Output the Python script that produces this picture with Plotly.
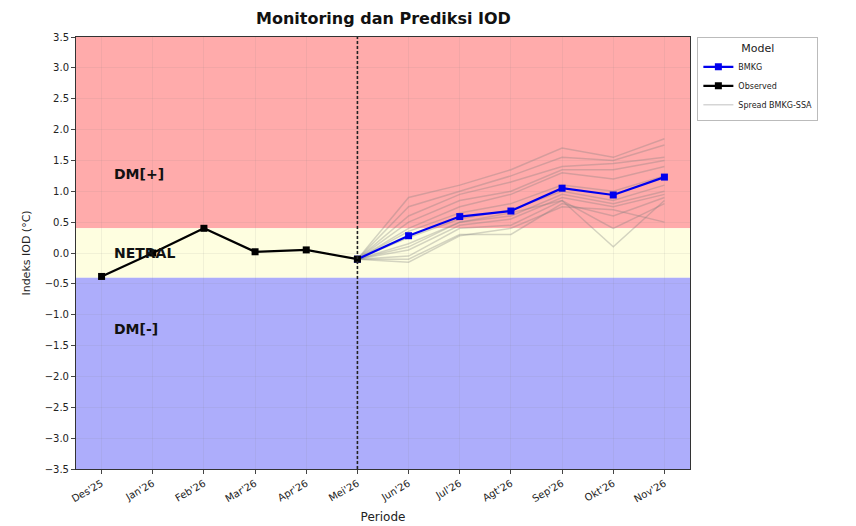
import plotly.graph_objects as go

periods = ["Des'25", "Jan'26", "Feb'26", "Mar'26", "Apr'26", "Mei'26",
           "Jun'26", "Jul'26", "Agt'26", "Sep'26", "Okt'26", "Nov'26"]
observed = [-0.38, 0.0, 0.40, 0.02, 0.05, -0.10]
bmkg = [-0.10, 0.28, 0.59, 0.68, 1.05, 0.94, 1.23]
spread_members = [
    [-0.10, 0.90, 1.10, 1.35, 1.70, 1.55, 1.85],
    [-0.10, 0.75, 1.00, 1.25, 1.55, 1.50, 1.75],
    [-0.10, 0.60, 0.95, 1.15, 1.40, 1.45, 1.55],
    [-0.10, 0.50, 0.85, 1.00, 1.35, 1.35, 1.50],
    [-0.10, 0.40, 0.75, 0.95, 1.30, 1.20, 1.40],
    [-0.10, 0.35, 0.65, 0.80, 1.10, 1.00, 1.25],
    [-0.10, 0.25, 0.55, 0.70, 1.00, 0.85, 1.10],
    [-0.10, 0.15, 0.50, 0.60, 0.95, 0.80, 1.00],
    [-0.10, 0.05, 0.45, 0.55, 0.90, 0.75, 0.95],
    [-0.10, -0.05, 0.40, 0.45, 0.85, 0.10, 0.85],
    [-0.10, -0.10, 0.30, 0.30, 0.80, 0.60, 0.90],
    [-0.10, -0.15, 0.28, 0.40, 0.75, 0.70, 0.50],
    [-0.10, 0.10, 0.50, 0.65, 0.85, 0.40, 0.80],
]
y_ticks = [-3.5, -3.0, -2.5, -2.0, -1.5, -1.0, -0.5, 0.0, 0.5, 1.0, 1.5, 2.0, 2.5, 3.0, 3.5]
threshold = 0.4
y_min, y_max = -3.5, 3.5
title_text = "Monitoring dan Prediksi IOD"

obs_x = list(range(len(observed)))
fc_x = list(range(len(observed) - 1, len(periods)))

fig = go.Figure()

for i, m in enumerate(spread_members):
    fig.add_trace(go.Scatter(
        x=fc_x, y=m, mode="lines",
        line=dict(color="rgba(128,128,128,0.33)", width=1.5),
        name="Spread BMKG-SSA", legendgroup="spread", legendrank=3,
        showlegend=(i == 0), hoverinfo="skip"))

fig.add_trace(go.Scatter(
    x=fc_x, y=bmkg, mode="lines+markers", name="BMKG", legendrank=1,
    line=dict(color="#0000ee", width=2.2),
    marker=dict(symbol="square", size=7, color="#0000ee")))

fig.add_trace(go.Scatter(
    x=obs_x, y=observed, mode="lines+markers", name="Observed", legendrank=2,
    line=dict(color="black", width=2.2),
    marker=dict(symbol="square", size=7, color="black")))

# bands
fig.add_shape(type="rect", xref="paper", yref="y", x0=0, x1=1, y0=threshold, y1=y_max,
              fillcolor="#ffabab", line_width=0, layer="below")
fig.add_shape(type="rect", xref="paper", yref="y", x0=0, x1=1, y0=-threshold, y1=threshold,
              fillcolor="#fefee0", line_width=0, layer="below")
fig.add_shape(type="rect", xref="paper", yref="y", x0=0, x1=1, y0=y_min, y1=-threshold,
              fillcolor="#adadfb", line_width=0, layer="below")
fig.add_shape(type="line", xref="x", yref="paper", x0=5, x1=5, y0=0, y1=1,
              line=dict(color="#222", width=1.6, dash="3px,2px"))

for txt, yv in [("DM[+]", 1.28), ("NETRAL", 0.0), ("DM[-]", -1.23)]:
    fig.add_annotation(x=0.2, y=yv, xref="x", yref="y", text="<b>%s</b>" % txt,
                       showarrow=False, xanchor="left", yanchor="middle",
                       font=dict(size=14, color="#111", family="DejaVu Sans"))

fig.add_annotation(x=0.5, y=1.043, xref="paper", yref="paper",
                   text="<b>%s</b>" % title_text, showarrow=False,
                   xanchor="center", yanchor="middle",
                   font=dict(size=16, color="#111", family="DejaVu Sans"))

fig.update_layout(
    width=856, height=526,
    margin=dict(l=68, r=174, t=29, b=65, autoexpand=False),
    paper_bgcolor="white", plot_bgcolor="white",
    font=dict(family="DejaVu Sans", size=10, color="#222"),
    legend=dict(x=1.012, y=1.0, xanchor="left", yanchor="top",
                bordercolor="#bbbbbb", borderwidth=1, bgcolor="white",
                title=dict(text="Model", side="top center", font=dict(size=11)),
                font=dict(size=8), itemwidth=30, tracegroupgap=0),
    showlegend=True,
)

fig.update_xaxes(
    range=[-0.5, 11.5], tickmode="array", tickvals=list(range(len(periods))),
    ticktext=periods, tickangle=-30, ticks="outside", ticklen=4,
    showline=True, linecolor="#333", linewidth=1, mirror=True, automargin=False,
    showgrid=True, gridcolor="rgba(128,128,128,0.10)", zeroline=False,
    title=dict(text="Periode", font=dict(size=12), standoff=9),
    tickfont=dict(size=10))
fig.update_yaxes(
    range=[y_min, y_max], tickmode="array", tickvals=y_ticks,
    ticktext=["%.1f" % v if v >= 0 else "\u2212%.1f" % abs(v) for v in y_ticks],
    ticks="outside", ticklen=4,
    showline=True, linecolor="#333", linewidth=1, mirror=True, automargin=False,
    showgrid=True, gridcolor="rgba(128,128,128,0.10)", zeroline=False,
    title=dict(text="Indeks IOD (°C)", font=dict(size=11), standoff=11),
    tickfont=dict(size=10))

fig.write_html("out.html")
